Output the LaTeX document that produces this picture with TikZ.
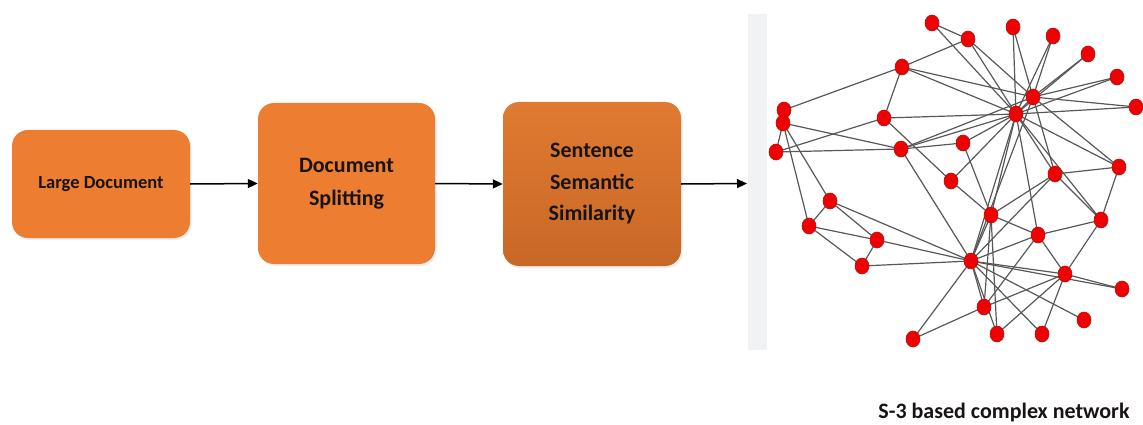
\documentclass[tikz,border=0pt]{standalone}
\usepackage{fontspec}
\setmainfont{Carlito}
\usetikzlibrary{arrows.meta,shapes.geometric,backgrounds,shadows}
\definecolor{boxorange}{RGB}{237,125,49}
\definecolor{boxtop}{RGB}{224,122,50}
\definecolor{boxbot}{RGB}{200,104,38}
\definecolor{txt}{RGB}{25,20,20}
\definecolor{vred}{RGB}{240,0,0}
\definecolor{vborder}{RGB}{170,20,20}
\definecolor{edgegray}{RGB}{88,88,88}
\definecolor{barGray}{RGB}{241,242,244}
\begin{document}
\begin{tikzpicture}[x=1pt,y=-1pt,
  procbox/.style={rounded corners=16pt, fill=boxorange, draw=none, text=txt,
    font=\bfseries, align=center, inner sep=0pt,
    drop shadow={opacity=0.15, shadow xshift=1.5pt, shadow yshift=-2pt}},
  flowarrow/.style={line width=1.5pt, -{Triangle[length=10pt,width=9pt]}},
  vtx/.style={ellipse, fill=vred, draw=vborder, line width=0.6pt,
    minimum width=14pt, minimum height=16pt, inner sep=0pt},
  edge/.style={draw=edgegray, line width=1.2pt}
]
\useasboundingbox (0,0) rectangle (1143,425);

% flow boxes
\node[procbox, minimum width=178pt, minimum height=108pt,
  font=\bfseries\fontsize{18.5}{22}\selectfont] (b1) at (101,184) {Large Document};
\node[procbox, minimum width=177pt, minimum height=161pt,
  font=\bfseries\fontsize{22}{33}\selectfont] (b2) at (346.5,183.5) {Document\\Splitting};
\node[procbox, fill=none, top color=boxtop, bottom color=boxbot, minimum width=178pt, minimum height=164pt,
  font=\bfseries\fontsize{22}{31.5}\selectfont] (b3) at (592,184) {Sentence\\Semantic\\Similarity};

\coordinate (aend) at (747,183.5);
\draw[flowarrow] (b1.east) -- (b2.west);
\draw[flowarrow] (b2.east) -- (b3.west);
\draw[flowarrow] (b3.east) -- (aend);

% light bar
\fill[barGray] (748,14) rectangle (767,350);

% network vertices
\node[vtx] (n1) at (932,23) {};
\node[vtx] (n2) at (968,39) {};
\node[vtx] (n3) at (1013,27) {};
\node[vtx] (n4) at (1053,36) {};
\node[vtx] (n5) at (1088,54) {};
\node[vtx] (n6) at (1117,77) {};
\node[vtx] (n7) at (1136,107) {};
\node[vtx] (h1) at (1033,97) {};
\node[vtx] (h2) at (1016,114) {};
\node[vtx] (n8) at (902,67) {};
\node[vtx] (n9) at (784,110) {};
\node[vtx] (n10) at (783,123) {};
\node[vtx] (n11) at (776,152) {};
\node[vtx] (n12) at (884,118) {};
\node[vtx] (n13) at (901,149) {};
\node[vtx] (n14) at (963,143) {};
\node[vtx] (n15) at (951,181) {};
\node[vtx] (n16) at (1055,174) {};
\node[vtx] (n17) at (1119,167) {};
\node[vtx] (n18) at (830,201) {};
\node[vtx] (n19) at (809,226) {};
\node[vtx] (n20) at (877,240) {};
\node[vtx] (n21) at (862,266) {};
\node[vtx] (n22) at (991,215) {};
\node[vtx] (n23) at (1038,235) {};
\node[vtx] (n24) at (1101,220) {};
\node[vtx] (h3) at (971,261) {};
\node[vtx] (n25) at (1065,274) {};
\node[vtx] (n26) at (1122,289) {};
\node[vtx] (n27) at (984,307) {};
\node[vtx] (n28) at (1084,320) {};
\node[vtx] (n29) at (997,334) {};
\node[vtx] (n30) at (1042,334) {};
\node[vtx] (n31) at (913,339) {};

\begin{pgfonlayer}{background}
\foreach \a/\b in {n1/n2, n1/h2, n2/n8, n2/h2, n2/h1, n3/h2, n3/h1, n4/h1, n4/h2,
  n5/h1, n5/h2, n6/h1, n6/h2, n7/h1, n7/h2, h1/h2,
  n8/h1, n8/h2, n8/n9, n8/n12,
  n9/n10, n10/n11, n10/n13, n10/n18, n10/n19, n11/n12, n11/n13,
  n12/h2, n12/n15,
  n13/n14, n13/h2, n13/h1, n13/h3,
  n14/h2, n14/n22, n15/n22, n15/h2,
  h2/n16, h2/n17, h2/n22, h2/n23, h2/h3, h2/n24, h1/h3, h1/n16, h1/n17,
  n16/n17, n16/n22, n16/n24, n16/h3, n17/n24,
  n18/n19, n18/n20, n18/h3, n19/n20, n19/n21, n20/n21, n20/h3, n21/h3,
  n22/n23, n22/h3, n22/n27, n22/n29,
  n23/n24, n23/h3, n23/n25, n23/n27,
  n24/n25, n25/h3, n25/n26, n25/n27, n25/n29, n25/n30,
  h3/n26, h3/n27, h3/n28, h3/n29, h3/n30, h3/n31, n27/n31}
  \draw[edge] (\a.center) -- (\b.center);
\end{pgfonlayer}

% caption
\node[font=\bfseries\fontsize{22}{24}\selectfont, text=txt, inner sep=0pt, anchor=base] (cap) at (1004,418) {S-3 based complex network};
\end{tikzpicture}
\end{document}
